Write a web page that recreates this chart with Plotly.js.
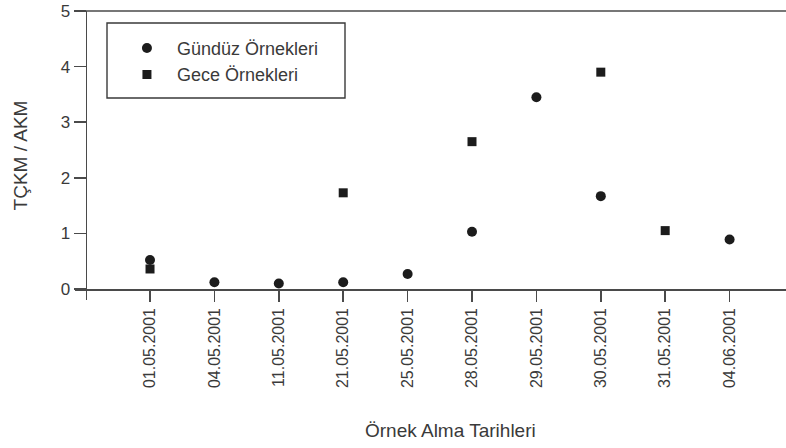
<!DOCTYPE html>
<html>
<head>
<meta charset="utf-8">
<script src="https://cdn.plot.ly/plotly-3.0.1.min.js"></script>
<style>html,body{margin:0;padding:0;background:#fff;}#chart{width:786px;height:448px;}</style>
</head>
<body>
<div id="chart"></div>
<script>
var dates = ["01.05.2001","04.05.2001","11.05.2001","21.05.2001","25.05.2001","28.05.2001","29.05.2001","30.05.2001","31.05.2001","04.06.2001"];
var gunduzName = "Gündüz Örnekleri";
var geceName = "Gece Örnekleri";
var gunduzValues = [0.52, 0.12, 0.10, 0.12, 0.27, 1.03, 3.45, 1.67, null, 0.89];
var geceValues = [0.36, null, null, 1.73, null, 2.65, null, 3.90, 1.05, null];
var yTicks = [0,1,2,3,4,5];
var xTitle = "Örnek Alma Tarihleri";
var yTitle = "TÇKM / AKM";

var font = "Liberation Sans, Arial, sans-serif";
var axisColor = "#4a4a4a";
var textColor = "#3a3a3a";

var traces = [
  {x: dates, y: gunduzValues, name: gunduzName, type: "scatter", mode: "markers",
   marker: {symbol: "circle", size: 10, color: "#1c1c1c"}},
  {x: dates, y: geceValues, name: geceName, type: "scatter", mode: "markers",
   marker: {symbol: "square", size: 9, color: "#1c1c1c"}}
];

var layout = {
  width: 786, height: 448,
  margin: {l: 75, r: 0, t: 11, b: 148, pad: 0},
  paper_bgcolor: "#fff", plot_bgcolor: "#fff",
  font: {family: font, color: textColor, size: 15},
  showlegend: true,
  legend: {x: 0.059, y: 0.935, xanchor: "left", yanchor: "top", bgcolor: "rgba(0,0,0,0)",
           borderwidth: 0, itemwidth: 50, font: {family: font, size: 18, color: textColor}, tracegroupgap: 0},
  xaxis: {type: "category", range: [-1.165, 9.876], anchor: "free", position: 0.038,
          showline: true, linecolor: axisColor, linewidth: 1.6,
          ticks: "outside", ticklen: 11, tickcolor: axisColor, tickwidth: 1.6,
          tickangle: -90, tickfont: {family: font, size: 16, color: textColor},
          showgrid: false, zeroline: false},
  yaxis: {range: [-0.198, 5], anchor: "free", position: 0.0149,
          showline: true, linecolor: axisColor, linewidth: 1.6,
          tickvals: yTicks, ticks: "outside", ticklen: 12, tickcolor: axisColor, tickwidth: 1.6,
          tickfont: {family: font, size: 17, color: textColor},
          showgrid: false, zeroline: false,
          title: {text: yTitle, font: {family: font, size: 19, color: textColor}, standoff: 26}},
  annotations: [
    {text: xTitle, xref: "paper", yref: "paper", x: (450-75)/711, y: (300-430)/289,
     xanchor: "center", yanchor: "middle", showarrow: false,
     font: {family: font, size: 19, color: textColor}}
  ],
  shapes: [
    {type: "line", xref: "paper", yref: "paper", x0: 0, x1: 1, y0: 1, y1: 1,
     line: {color: axisColor, width: 1.6}},
    {type: "rect", xref: "paper", yref: "paper",
     x0: (107-75)/711, x1: (345-75)/711, y0: (300-98)/289, y1: (300-23)/289,
     line: {color: "#3a3a3a", width: 1.4}}
  ]
};

Plotly.newPlot("chart", traces, layout, {displayModeBar: false, staticPlot: true});
</script>
</body>
</html>
